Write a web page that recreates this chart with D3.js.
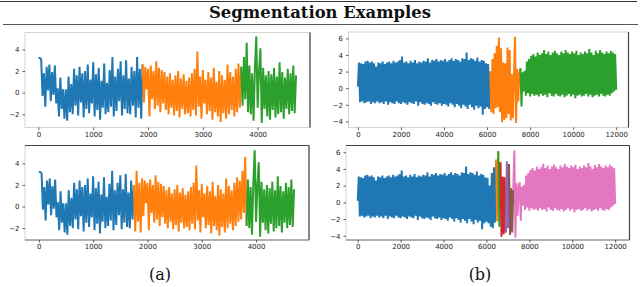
<!DOCTYPE html>
<html>
<head>
<meta charset="utf-8">
<script src="https://cdn.jsdelivr.net/npm/d3@7"></script>
<style>
  body { margin: 0; background: #fff; }
  svg { display: block; }
</style>
</head>
<body>
<svg id="chart" width="640" height="287"></svg>
<script>
// signal (a), one value every 25 samples, 0..4700
const stepA = 25;
const signalA = [
  3.2, 3.2, 3.1, -0.3, 1.8, -1.3, 2.4, 0.2, 2.6, -0.8, 1.9, -0.2, 2.5, -1.0, 0.4, -2.2, 1.4, -1.5, 0.3, -2.4,
  0.3, -2.6, 1.5, -1.8, 0.8, -2.0, 2.2, -1.2, 1.6, -2.1, 2.4, -0.9, 1.8, -2.3, 2.0, -1.5, 2.6, -1.9, 1.2, -1.0,
  2.8, -2.2, 1.7, -1.6, 2.3, -2.5, 1.1, -1.4, 2.7, -2.0, 0.9, -1.8, 2.1, -1.3, 3.3, -2.2, 1.5, -1.7, 2.2, -0.8,
  2.9, -2.1, 1.6, -1.5, 3.0, -1.9, 1.3, -2.0, 2.4, -1.2, 2.0, -2.3, 3.3, -1.4, 2.2, -2.4,
  2.6, -0.9, 2.4, 0.3, 2.2, -2.2, 2.5, -0.6, 2.0, -1.5, 2.9, -1.2, 2.3, -1.8, 2.1, -1.0,
  1.9, -1.6, 1.5, -2.0, 1.8, -1.4, 1.2, -2.1, 1.6, -1.7, 2.0, -2.3, 1.3, -1.5, 1.7, -2.0, 1.1, -1.9, 1.4, -2.2,
  1.8, -1.6, 2.2, -2.1, 3.8, -1.3, 1.5, -2.4, 2.1, -1.0, 1.2, -2.0, 1.9, -1.7, 1.4, -2.5, 2.3, -1.8, 1.0, -2.2,
  2.0, -2.7, 1.6, -1.9, 1.2, -2.4, 2.6, -2.0, 1.9, -1.6, 1.5, -2.2, 2.2, -1.8, 2.7, -1.4,
  2.4, -1.2, 3.3, -0.6, 4.6, -1.8, 2.5, -2.0,
  1.8, -2.6, 2.2, 5.2, -1.4, 2.0, 4.1, -2.8, 2.3, -1.5, 1.6, -2.2,
  2.0, -2.5, 1.7, -1.6, 2.3, -2.3, 1.5, -2.0, 2.8, -1.8, 1.9, -2.4, 1.4, -1.5, 2.2, -2.0, 1.8, -1.7, 2.5, -1.9, 1.6
];

// signal (b), one value every 50 samples, 0..12000
const stepB = 50;
const signalB = [
  0.2, 3.1, -1.7, 3.0, -1.6, 2.9, -1.8, 3.2, -1.7, 3.3, -1.6, 3.1, -1.9, 3.2, -1.7, 3.0, -1.8, 2.6, -1.6, 3.1,
  -1.8, 3.0, -1.7, 3.2, -1.9, 2.9, -1.6, 3.1, -2.0, 3.2, -1.7, 3.0, -1.8, 3.3, -1.9, 3.1, -1.6, 3.2, -1.8, 3.4,
  -1.9, 3.8, -1.7, 3.1, -1.8, 3.2, -2.0, 3.0, -1.7, 3.3, -1.8, 3.1, -1.9, 3.4, -1.6, 3.0, -2.1, 3.2, -1.7, 3.1,
  -1.9, 3.3, -2.0, 3.2, -1.8, 3.6, -1.9, 3.1, -2.1, 3.4, -1.7, 3.3, -1.9, 3.5, -2.0, 3.2, -1.8, 3.4, -2.1, 3.3,
  -1.9, 3.5, -2.0, 3.2, -2.2, 3.4, -1.8, 3.6, -2.0, 3.3, -2.3, 3.5, -1.9, 3.4, -2.1, 3.2, -2.4, 3.6, -2.0, 3.5,
  -2.2, 4.3, -2.5, 3.4, -2.0, 3.6, -2.3, 3.5, -2.6, 3.3, -2.1, 3.7, -2.4, 3.2, -2.2, 3.4, -3.2, 3.3, -2.5, 3.0,
  -2.3, 2.9, -2.5,
  2.0, -2.9, 3.5, -3.1, 4.2, -2.4, 5.1, -2.3, 6.1, -2.9, 4.8, -4.1, 3.1, -3.8, 3.0, -3.6, 4.9, -3.1, 4.6, -3.9,
  1.7, -3.6, 1.5, 6.2, -4.2, 2.3, -1.6, 1.8,
  2.4, -2.2, 1.9, -0.4, 2.1, -0.9, 3.2, -0.6, 3.5, -1.0, 3.9, -0.7, 4.1, -0.9, 3.8, -0.8, 4.3, -1.0, 4.0,
  -0.7, 4.2, -0.9, 4.6, -0.8, 4.1, -1.1, 4.4, -0.6, 4.0, -0.9, 4.3, -1.0, 4.5, -0.7, 4.2, -0.9, 4.0, -1.0, 4.4,
  -0.8, 4.2, -1.1, 4.6, -0.9, 4.3, -0.7, 4.1, -1.0, 4.4, -0.8, 4.2, -1.2, 4.5, -0.9, 4.0, -0.8, 4.3, -1.0, 4.1,
  -0.9, 4.4, -0.7, 4.2, -1.0, 4.7, -0.8, 4.3, -1.1, 4.0, -0.9, 4.5, -0.8, 4.2, -1.0, 4.6, -0.7, 4.3, -0.9, 4.1,
  -1.0, 4.4, -0.8, 4.2, -0.9, 4.5, -0.6, 4.3, -0.4, 4.1, -0.2
];

// segment boundaries (sample index units)
const breaksATop = [0, 1900, 3700, 4700];
const breaksABottom = [0, 1750, 3825, 4700];
const breaksBTop = [0, 6150, 7550, 12000];
const breaksBBottom = [0, 6450, 6550, 6650, 6900, 7050, 7250, 12000];

const segColors = ["#1f77b4", "#ff7f0e", "#2ca02c", "#d62728", "#9467bd", "#8c564b", "#e377c2"];

const xTicksA = [0, 1000, 2000, 3000, 4000];
const yTicksA = [-2, 0, 2, 4];
const xTicksB = [0, 2000, 4000, 6000, 8000, 10000, 12000];
const yTicksB = [-4, -2, 0, 2, 4, 6];

const titleText = "Segmentation Examples";
const captions = ["(a)", "(b)"];

const svg = d3.select("#chart");

// title with rules
svg.append("line").attr("x1", 0).attr("x2", 637).attr("y1", 1.5).attr("y2", 1.5)
  .attr("stroke", "#333").attr("stroke-width", 1);
svg.append("line").attr("x1", 3).attr("x2", 638).attr("y1", 24.5).attr("y2", 24.5)
  .attr("stroke", "#555").attr("stroke-width", 1);
svg.append("text")
  .attr("x", 320).attr("y", 18)
  .attr("text-anchor", "middle")
  .attr("font-family", "DejaVu Serif")
  .attr("font-weight", "bold")
  .attr("font-size", 16)
  .attr("textLength", 222)
  .attr("lengthAdjust", "spacingAndGlyphs")
  .attr("fill", "#111")
  .text(titleText);

const panels = [
  { signal: signalA, step: stepA, breaks: breaksATop, xTicks: xTicksA, yTicks: yTicksA, lw: 2,
    box: [25, 32.5, 285, 95], xDom: [-245, 4955], yDom: [-3.22, 5.56], dark: ["right"] },
  { signal: signalA, step: stepA, breaks: breaksABottom, xTicks: xTicksA, yTicks: yTicksA, lw: 2,
    box: [25, 145.5, 284, 94.5], xDom: [-255, 4975], yDom: [-3.1, 5.65], dark: ["top", "right", "bottom"] },
  { signal: signalB, step: stepB, breaks: breaksBTop, xTicks: xTicksB, yTicks: yTicksB, lw: 2,
    box: [348.5, 32, 280, 95.5], xDom: [-437, 12571], yDom: [-4.73, 6.76], dark: ["right"] },
  { signal: signalB, step: stepB, breaks: breaksBBottom, xTicks: xTicksB, yTicks: yTicksB, lw: 2,
    box: [346, 145.5, 283.5, 94.5], xDom: [-546, 12667], yDom: [-4.5, 6.8], dark: ["top", "right", "bottom"] }
];

panels.forEach(p => {
  const [left, top, w, h] = p.box;
  const x = d3.scaleLinear().domain(p.xDom).range([left, left + w]);
  const y = d3.scaleLinear().domain(p.yDom).range([top + h, top]);

  const g = svg.append("g");

  // frame
  g.append("rect")
    .attr("x", left).attr("y", top).attr("width", w).attr("height", h)
    .attr("fill", "none").attr("stroke", "#d4d4d4").attr("stroke-width", 1);

  const clipId = "clip" + Math.round(left) + "_" + Math.round(top);
  svg.append("clipPath").attr("id", clipId)
    .append("rect").attr("x", left).attr("y", top).attr("width", w).attr("height", h);

  const line = d3.line()
    .x(d => x(d[0]))
    .y(d => y(d[1]));

  for (let s = 0; s < p.breaks.length - 1; s++) {
    const i0 = Math.round(p.breaks[s] / p.step);
    const i1 = Math.round(p.breaks[s + 1] / p.step);
    const pts = [];
    for (let i = i0; i <= i1 && i < p.signal.length; i++) {
      pts.push([i * p.step, p.signal[i]]);
    }
    g.append("path")
      .datum(pts)
      .attr("clip-path", `url(#${clipId})`)
      .attr("fill", "none")
      .attr("stroke", segColors[s])
      .attr("stroke-width", p.lw)
      .attr("stroke-linejoin", "bevel")
      .attr("d", line);
  }

  // darker frame edges
  const edges = {
    top: [left, top, left + w, top],
    right: [left + w, top, left + w, top + h],
    bottom: [left, top + h, left + w, top + h]
  };
  p.dark.forEach(k => {
    const e = edges[k];
    g.append("line")
      .attr("x1", e[0]).attr("y1", e[1]).attr("x2", e[2]).attr("y2", e[3])
      .attr("stroke", k === "bottom" ? "#777" : "#444").attr("stroke-width", 1.2);
  });

  // axes
  const xAxis = g.append("g")
    .attr("transform", `translate(0,${top + h})`)
    .call(d3.axisBottom(x).tickValues(p.xTicks).tickSize(2.5).tickPadding(2).tickFormat(d3.format("d")));
  const yAxis = g.append("g")
    .attr("transform", `translate(${left},0)`)
    .call(d3.axisLeft(y).tickValues(p.yTicks).tickSize(2.5).tickPadding(3).tickFormat(d3.format("d")));

  [xAxis, yAxis].forEach(a => {
    a.select(".domain").remove();
    a.selectAll(".tick line").attr("stroke", "#333").attr("stroke-width", 0.8);
    a.selectAll(".tick text")
      .attr("font-family", "DejaVu Sans")
      .attr("font-size", 7)
      .attr("fill", "#222");
  });
});

// captions
captions.forEach((c, i) => {
  svg.append("text")
    .attr("x", 160 + i * 320).attr("y", 280)
    .attr("text-anchor", "middle")
    .attr("font-family", "DejaVu Serif")
    .attr("font-size", 16)
    .attr("fill", "#111")
    .text(c);
});
</script>
</body>
</html>
